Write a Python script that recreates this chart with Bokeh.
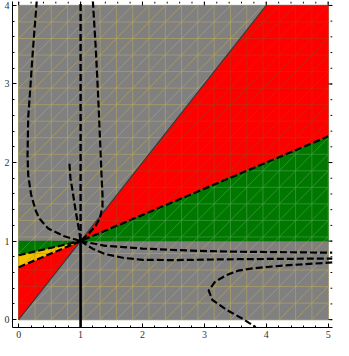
import numpy as np
from bokeh.plotting import figure
from bokeh.models import Range1d, LinearAxis, FixedTicker
from bokeh.embed import file_html
from bokeh.resources import INLINE

# ---------------- data ----------------
x_ticks = [0, 1, 2, 3, 4, 5]
y_ticks = [0, 1, 2, 3, 4]
x_labels = ["0", "1", "2", "3", "4", "5"]
y_labels = ["0", "1", "2", "3", "4"]
minor_step = 0.2

domain_x = [0, 5, 5, 0]
domain_y = [0, 0, 4, 4]

red_right_x = [1, 4, 5, 5]
red_right_y = [1, 4, 4, 2.333]
red_left_x = [0, 1, 0]
red_left_y = [0, 1, 0.667]
yellow_x = [0, 1, 0]
yellow_y = [0.667, 1, 0.82]
green_left_x = [0, 1, 0]
green_left_y = [0.82, 1, 1]
green_right_x = [1, 5, 5]
green_right_y = [1, 2.333, 1]

diag_x = [0, 4]
diag_y = [0, 4]
mid_line_x = [0, 5]
mid_line_y = [0.667, 2.333]
left_line_x = [0, 1]
left_line_y = [0.82, 1.0]

# dashed curves
curve_a_x = [0.292, 0.231, 0.177, 0.154, 0.143, 0.154, 0.200, 0.277, 0.338, 0.477, 0.738, 1.0]
curve_a_y = [4.06, 3.444, 2.827, 2.580, 2.086, 1.840, 1.593, 1.383, 1.284, 1.160, 1.062, 1.0]
curve_c_x = [1.198, 1.246, 1.285, 1.312, 1.338, 1.354, 1.354, 1.308, 1.246, 1.138, 1.0]
curve_c_y = [4.06, 3.444, 2.827, 2.333, 1.840, 1.593, 1.432, 1.284, 1.198, 1.099, 1.0]
curve_d_x = [0.820, 0.836, 0.872, 0.903, 0.938, 0.974, 1.0]
curve_d_y = [1.984, 1.798, 1.633, 1.469, 1.305, 1.140, 1.0]
curve_e1_x = [1.0, 1.4, 2.0, 2.8, 3.5, 5.07]
curve_e1_y = [1.0, 0.94, 0.905, 0.878, 0.865, 0.852]
curve_e2_x = [1.0, 1.2, 1.4, 1.7, 2.0, 2.5, 3.55, 5.07]
curve_e2_y = [1.0, 0.90, 0.835, 0.785, 0.762, 0.758, 0.77, 0.778]
curve_e3_x = [5.07, 4.3, 3.8, 3.55, 3.35, 3.17, 3.07, 3.13, 3.37, 3.62, 3.83]
curve_e3_y = [0.728, 0.69, 0.655, 0.625, 0.565, 0.48, 0.37, 0.25, 0.12, 0.01, -0.095]

vline_x = 1.0
vline_dash_y = [1.0, 4.06]
vline_solid_y = [-0.1, 1.0]

mesh_divisions = 19

X_START, X_END = -0.1, 5.07
Y_START, Y_END = -0.1, 4.05

# ---------------- helpers ----------------
def clip_segment(x0, y0, x1, y1, px, py):
    n = len(px)
    area = sum(px[i] * py[(i + 1) % n] - px[(i + 1) % n] * py[i] for i in range(n))
    sgn = 1.0 if area > 0 else -1.0
    t0, t1 = 0.0, 1.0
    dx, dy = x1 - x0, y1 - y0
    for i in range(n):
        ax, ay = px[i], py[i]
        bx, by = px[(i + 1) % n], py[(i + 1) % n]
        nx, ny = -(by - ay) * sgn, (bx - ax) * sgn
        num = nx * (x0 - ax) + ny * (y0 - ay)
        den = nx * dx + ny * dy
        if abs(den) < 1e-12:
            if num < 0:
                return None
            continue
        t = -num / den
        if den > 0:
            t0 = max(t0, t)
        else:
            t1 = min(t1, t)
        if t0 >= t1:
            return None
    return (x0 + t0 * dx, y0 + t0 * dy, x0 + t1 * dx, y0 + t1 * dy)


def mesh_lines():
    segs = []
    xmax, ymax = domain_x[1], domain_y[2]
    ddx, ddy = xmax / mesh_divisions, ymax / mesh_divisions
    for i in range(mesh_divisions + 1):
        segs.append((i * ddx, 0, i * ddx, ymax))
        segs.append((0, i * ddy, xmax, i * ddy))
    for k in range(-mesh_divisions, mesh_divisions + 1):
        segs.append((k * ddx - 30 * ddx, -30 * ddy, k * ddx + 60 * ddx, 60 * ddy))
    return segs


def clipped(px, py):
    out = {"x0": [], "y0": [], "x1": [], "y1": []}
    for s in mesh_lines():
        c = clip_segment(*s, px, py)
        if c is not None:
            out["x0"].append(c[0]); out["y0"].append(c[1])
            out["x1"].append(c[2]); out["y1"].append(c[3])
    return out


# ---------------- figure ----------------
p = figure(width=333, height=340, output_backend="svg", toolbar_location=None,
           x_range=Range1d(X_START, X_END), y_range=Range1d(Y_START, Y_END),
           x_axis_location=None, y_axis_location=None,
           min_border_left=12, min_border_bottom=13, min_border_top=1, min_border_right=1)
p.outline_line_color = None
p.grid.visible = False
p.background_fill_color = "white"
p.border_fill_color = "white"

minor_x = [round(v, 2) for v in np.arange(x_ticks[0], x_ticks[-1] + 0.01, minor_step)]
minor_y = [round(v, 2) for v in np.arange(y_ticks[0], y_ticks[-1] + 0.01, minor_step)]


def style_axis(ax, ticks, minor, labels):
    ax.ticker = FixedTicker(ticks=ticks, minor_ticks=minor)
    ax.major_tick_in = 4
    ax.major_tick_out = 0
    ax.minor_tick_in = 2
    ax.minor_tick_out = 0
    ax.axis_line_color = "black"
    ax.major_tick_line_color = "black"
    ax.minor_tick_line_color = "black"
    ax.axis_line_width = 1
    ax.major_label_overrides = {t: l for t, l in zip(ticks, labels)}
    ax.major_label_text_font = "Liberation Serif"
    ax.major_label_text_font_size = "10px"
    ax.major_label_text_color = "#333333"
    ax.major_label_standoff = 3


bottom = LinearAxis(); style_axis(bottom, x_ticks, minor_x, x_labels); p.add_layout(bottom, "below")
left = LinearAxis(); style_axis(left, y_ticks, minor_y, y_labels); p.add_layout(left, "left")

# gray domain + its mesh
p.patch(domain_x, domain_y, fill_color="#808080", line_color="#6a6a6a", line_width=1)
m = clipped(domain_x, domain_y)
p.segment(**m, line_color="#b8a55e", line_alpha=0.7, line_width=0.9)

regions = [
    (red_right_x, red_right_y, "#ff0000", "#c03018"),
    (red_left_x, red_left_y, "#ff0000", "#c03018"),
    (yellow_x, yellow_y, "#f2c200", "#c09a10"),
    (green_left_x, green_left_y, "#007800", "#4aa04a"),
    (green_right_x, green_right_y, "#007800", "#4aa04a"),
]
for rx, ry, fc, mc in regions:
    p.patch(rx, ry, fill_color=fc, line_color=fc, line_width=0.5)
for rx, ry, fc, mc in regions:
    mm = clipped(rx, ry)
    p.segment(**mm, line_color=mc, line_alpha=0.7, line_width=0.9)

# boundaries
p.line(diag_x, diag_y, line_color="#3a3a3a", line_width=1.2)
p.line(mid_line_x, mid_line_y, line_color="black", line_width=2.2, line_dash="7 3")
p.line(left_line_x, left_line_y, line_color="black", line_width=2.2, line_dash="7 3")

# dashed curves
for cx, cy in [(curve_a_x, curve_a_y), (curve_c_x, curve_c_y), (curve_d_x, curve_d_y),
               (curve_e1_x, curve_e1_y), (curve_e2_x, curve_e2_y), (curve_e3_x, curve_e3_y)]:
    p.line(cx, cy, line_color="black", line_width=2.2, line_dash="7 3", line_join="round")

p.line([vline_x, vline_x], vline_dash_y, line_color="black", line_width=2.4, line_dash="7 3")
p.line([vline_x, vline_x], vline_solid_y, line_color="black", line_width=2.6)

# frame ticks on the top and right edges (no labels, as in the reference)
maj_len_y, min_len_y = 0.05, 0.025
maj_len_x, min_len_x = 0.065, 0.032
tx = [t for t in x_ticks]
p.segment(x0=tx, y0=[Y_END] * len(tx), x1=tx, y1=[Y_END - maj_len_y] * len(tx),
          line_color="black", line_width=1)
p.segment(x0=minor_x, y0=[Y_END] * len(minor_x), x1=minor_x, y1=[Y_END - min_len_y] * len(minor_x),
          line_color="black", line_width=1)
ty = [t for t in y_ticks]
p.segment(x0=[X_END] * len(ty), y0=ty, x1=[X_END - maj_len_x] * len(ty), y1=ty,
          line_color="black", line_width=1)
p.segment(x0=[X_END] * len(minor_y), y0=minor_y, x1=[X_END - min_len_x] * len(minor_y), y1=minor_y,
          line_color="black", line_width=1)

open("out.html", "w").write(file_html(p, INLINE))
